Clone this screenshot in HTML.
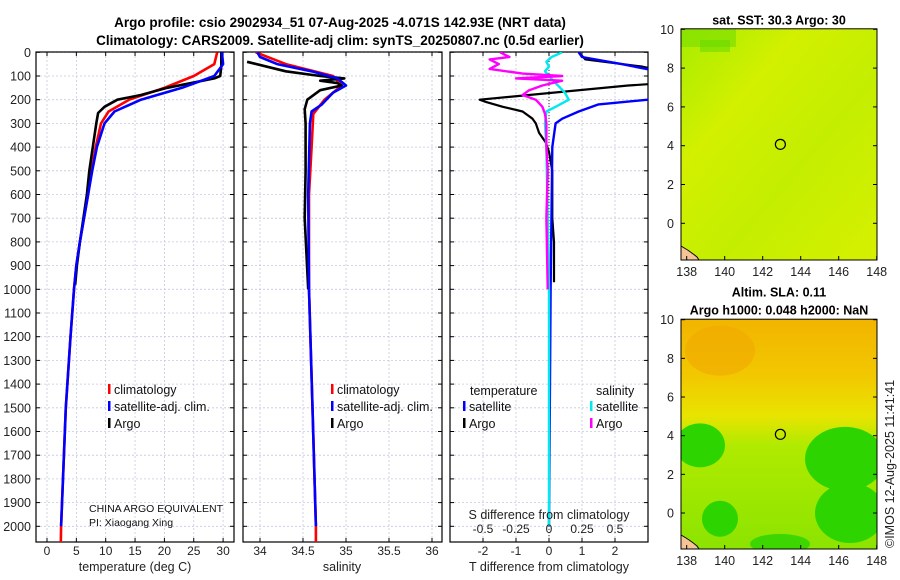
<!DOCTYPE html>
<html><head><meta charset="utf-8">
<style>
html,body{margin:0;padding:0;background:#fff;}
svg{display:block;font-family:"Liberation Sans","DejaVu Sans",sans-serif;}
</style></head>
<body>
<svg id="c" width="900" height="580" viewBox="0 0 900 580" xmlns="http://www.w3.org/2000/svg">
<defs>
<linearGradient id="sstg" x1="0" y1="0" x2="1" y2="1">
<stop offset="0" stop-color="#a8ec00"/><stop offset="0.3" stop-color="#d2f000"/><stop offset="0.6" stop-color="#c4ee00"/><stop offset="1" stop-color="#d6f000"/>
</linearGradient>
<linearGradient id="slag" x1="0" y1="0" x2="0" y2="1">
<stop offset="0" stop-color="#f2b400"/><stop offset="0.25" stop-color="#f2c800"/><stop offset="0.42" stop-color="#e8e400"/><stop offset="0.55" stop-color="#b0ea00"/><stop offset="1" stop-color="#8ce400"/>
</linearGradient>
<clipPath id="cp1"><rect x="36" y="52" width="198" height="490"/></clipPath>
<clipPath id="cp2"><rect x="243" y="52" width="199" height="490"/></clipPath>
<clipPath id="cp3"><rect x="450" y="52" width="198" height="490"/></clipPath>
<clipPath id="cm2"><rect x="681" y="319" width="196" height="230"/></clipPath>
</defs>
<g id="root"></g>
</svg>
<script>
// ---- data (depth in dbar) ----
const climDepth = [0,50,100,150,200,250,300,400,500,600,700,800,900,1000,1200,1500,2000,2070];
const climTemp  = [29,28.5,25,20,14,10.5,9.2,8.3,7.6,7.0,6.3,5.6,5.0,4.6,4.0,3.2,2.4,2.35];
const satDepth  = [0,50,100,150,200,250,300,400,500,600,700,800,900,1000,1200,1500,2000];
const satTemp   = [29.8,30,28.5,23,16,11.5,9.8,8.5,7.7,7.0,6.3,5.6,5.0,4.6,4.0,3.2,2.4];
const argoDepth = [0,60,100,110,150,180,200,230,256,300,400,500,600,700,800,900,980];
const argoTemp  = [29.7,29.7,29.5,28.5,20.5,16,12,9.8,8.7,8.4,7.8,7.2,6.8,6.2,5.6,5.1,4.8];

const climSDepth = [0,50,100,140,200,260,400,600,1000,1500,2000,2070];
const climSal    = [33.95,34.3,34.85,34.95,34.75,34.62,34.6,34.57,34.57,34.61,34.65,34.65];
const satSDepth  = [0,20,50,80,110,140,170,220,250,300,600,1000,1500,2000];
const satSal     = [33.97,34.0,34.2,34.6,34.9,35.0,34.85,34.72,34.6,34.58,34.56,34.57,34.61,34.65];
const argoSDepth = [40,80,100,110,120,130,140,160,200,240,300,500,700,1000];
const argoSal    = [33.85,34.3,34.7,34.98,34.7,34.9,34.95,34.7,34.55,34.52,34.53,34.53,34.52,34.56];

const dTDepthArgo = [0,30,60,80,130,140,200,210,230,250,280,300,340,380,420,500,700,800,970];
const dTArgo      = [0.9,1.1,2.8,3.5,3.5,2.4,-2.1,-1.9,-1.4,-0.8,-0.5,-0.4,-0.3,-0.1,0.0,0.1,0.1,0.15,0.15];
const dTDepthSat  = [0,20,50,80,110,200,220,250,280,300,400,1000,2000];
const dTSat       = [0.9,1.0,2.2,3.3,3.6,3.0,1.5,0.9,0.4,0.2,0.1,0.05,0.0];
const dSDepthSat  = [0,20,40,60,80,100,130,170,200,230,250,300,400,1000,2000];
const dSSat       = [0.1,0.02,-0.02,0.0,-0.03,0.0,0.05,0.12,0.15,0.05,-0.02,-0.03,-0.02,0.0,0.0];
const dSDepthArgo = [0,20,30,50,70,90,100,110,120,140,160,180,200,230,260,300,400,500,700,1000];
const dSArgo      = [-0.37,-0.3,-0.45,-0.38,-0.45,-0.2,0.1,-0.25,0.1,-0.05,-0.15,-0.2,-0.1,-0.05,-0.03,-0.02,-0.02,-0.01,-0.02,-0.01];

const depthTicks = [0,100,200,300,400,500,600,700,800,900,1000,1100,1200,1300,1400,1500,1600,1700,1800,1900,2000];
const tTicks = [0,5,10,15,20,25,30];
const sTicks = [34,34.5,35,35.5,36];
const sTickLabels = ["34","34.5","35","35.5","36"];
const dtTicks = [-2,-1,0,1,2];
const dsTicks = [-0.5,-0.25,0,0.25,0.5];
const dsTickLabels = ["-0.5","-0.25","0","0.25","0.5"];
const lonTicks = [138,140,142,144,146,148];
const latTicks = [10,8,6,4,2,0];

// ---- scales ----
const yD = d => 52.3 + d*0.2370;
const xT = t => 47 + t*5.87;
const xS = s => 260 + (s-34)*86;
const xDT = t => 549 + t*33;
const xDS = s => 549 + s*132;
const NS = "http://www.w3.org/2000/svg";
const root = document.getElementById('root');
function mk(tag, attrs, parent){ const e=document.createElementNS(NS,tag); for(const k in attrs) e.setAttribute(k,attrs[k]); (parent||root).appendChild(e); return e; }
function txt(x,y,s,attrs,parent){ const e=mk('text',Object.assign({x:x,y:y},attrs||{}),parent); e.textContent=s; return e; }

// titles
let t1 = txt(340,27,"Argo profile: csio 2902934_51 07-Aug-2025 -4.071S 142.93E (NRT data)",{"font-size":"13.5","font-weight":"bold","text-anchor":"middle"});


let t2 = txt(340,45,"Climatology: CARS2009. Satellite-adj clim: synTS_20250807.nc (0.5d earlier)",{"font-size":"13.5","font-weight":"bold","text-anchor":"middle"});



const panels = [
 {x0:36,x1:234,clip:'cp1',name:'temperature-panel',vt:tTicks,vl:tTicks.map(String),f:xT},
 {x0:243,x1:442,clip:'cp2',name:'salinity-panel',vt:sTicks,vl:sTickLabels,f:xS},
 {x0:450,x1:648,clip:'cp3',name:'difference-panel',vt:dtTicks,vl:dtTicks.map(String),f:xDT}
];
const yB = 542;
panels.forEach((p,i)=>{
  const g = mk('g',{});
  
  
  depthTicks.forEach(d=>{ mk('line',{x1:p.x0,x2:p.x1,y1:yD(d),y2:yD(d),stroke:'#c4c8e0','stroke-width':0.8,'stroke-dasharray':'2,2'},g); });
  p.vt.forEach(v=>{ mk('line',{x1:p.f(v),x2:p.f(v),y1:52,y2:yB,stroke:'#c4c8e0','stroke-width':0.8,'stroke-dasharray':'2,2'},g); });
  depthTicks.forEach(d=>{ mk('line',{x1:p.x0,x2:p.x0+4,y1:yD(d),y2:yD(d),stroke:'#000'},g); mk('line',{x1:p.x1-4,x2:p.x1,y1:yD(d),y2:yD(d),stroke:'#000'},g); });
  p.vt.forEach((v,k)=>{ mk('line',{x1:p.f(v),x2:p.f(v),y1:yB,y2:yB-4,stroke:'#000'},g); mk('line',{x1:p.f(v),x2:p.f(v),y1:52,y2:56,stroke:'#000'},g);
    const tl = txt(p.f(v),555,p.vl[k],{"font-size":"12","text-anchor":"middle",fill:'#222'},g);
    
    
  });
  mk('rect',{x:p.x0,y:52,width:p.x1-p.x0,height:yB-52,fill:'none',stroke:'#000','stroke-width':1.2},g);
});
depthTicks.forEach(d=>{ const e=txt(31,yD(d)+4.5,String(d),{"font-size":"12.5","text-anchor":"end",fill:'#222'});
  
  
});
let xt1=txt(135,571,"temperature (deg C)",{"font-size":"12.5","text-anchor":"middle",fill:'#222'});


let xt2=txt(342,571,"salinity",{"font-size":"12.5","text-anchor":"middle",fill:'#222'});


let xt3=txt(549,571,"T difference from climatology",{"font-size":"12.5","text-anchor":"middle",fill:'#222'});



function line(ds,vs,fx,color,clip,name,w){
  const pts = ds.map((d,i)=>fx(vs[i]).toFixed(1)+','+yD(d).toFixed(1)).join(' ');
  const e = mk('polyline',{points:pts,fill:'none',stroke:color,'stroke-width':w||2.6,'stroke-linejoin':'round','clip-path':'url(#'+clip+')'});
  
  
}
line(climDepth,climTemp,xT,'#ff0000','cp1','temperature-climatology-line');
line(argoDepth,argoTemp,xT,'#000000','cp1','temperature-argo-line');
line(satDepth,satTemp,xT,'#0000ff','cp1','temperature-satellite-line');
line(climSDepth,climSal,xS,'#ff0000','cp2','salinity-climatology-line');
line(argoSDepth,argoSal,xS,'#000000','cp2','salinity-argo-line');
line(satSDepth,satSal,xS,'#0000ff','cp2','salinity-satellite-line');
mk('line',{x1:549,x2:549,y1:52,y2:yB,stroke:'#000','stroke-width':0.8,'stroke-dasharray':'1,2'});
line(dTDepthArgo,dTArgo,xDT,'#000000','cp3','t-diff-argo-line',2.2);
line(dTDepthSat,dTSat,xDT,'#0000ff','cp3','t-diff-satellite-line',2.4);
line(dSDepthSat,dSSat,xDS,'#00e8f0','cp3','s-diff-satellite-line',2.4);
line(dSDepthArgo,dSArgo,xDS,'#ff00ff','cp3','s-diff-argo-line',2.4);

let sdt=txt(549,519,"S difference from climatology",{"font-size":"12.5","text-anchor":"middle",fill:'#222'});


dsTicks.forEach((v,k)=>{ const e=txt(xDS(v),533,dsTickLabels[k],{"font-size":"12","text-anchor":"middle",fill:'#222'});
  
  
});

function leg(x,y,color,label){ const g=mk('g',{});
  
  
  mk('rect',{x:x,y:y-8,width:2.5,height:10,fill:color},g);
  txt(x+6,y+2,label,{"font-size":"12.5",fill:'#111'},g); }
leg(108,392,'#ff0000','climatology'); leg(108,409,'#0000ff','satellite-adj. clim.'); leg(108,426,'#000','Argo');
leg(331,392,'#ff0000','climatology'); leg(331,409,'#0000ff','satellite-adj. clim.'); leg(331,426,'#000','Argo');
let lt=txt(470,395,"temperature",{"font-size":"12.5",fill:'#111'});


let ls=txt(596,395,"salinity",{"font-size":"12.5",fill:'#111'});


leg(463,409,'#0000ff','satellite'); leg(463,426,'#000','Argo');
leg(590,409,'#00e8f0','satellite'); leg(590,426,'#ff00ff','Argo');
let n1=txt(89,512,"CHINA ARGO EQUIVALENT",{"font-size":"10.5",fill:'#111'});


let n2=txt(89,526,"PI: Xiaogang Xing",{"font-size":"10.5",fill:'#111'});



// ---- maps ----
const lonX = l => 686.7 + (l-138)*19.0;
function map(y10,y0,bottom,name,title1,title2,fillId,extra){
  const g=mk('g',{});
  
  
  const latY = la => y0 + (y10-y0)*la/10;
  mk('rect',{x:681,y:y10-0.5,width:196,height:bottom-y10+0.5,fill:'url(#'+fillId+')'},g);
  if(extra) extra(g,latY);
  mk('path',{d:`M681,${bottom-14} Q690,${bottom-9} 697,${bottom-3} L699,${bottom} L681,${bottom} Z`,fill:'#f5c496',stroke:'#000','stroke-width':1},g);
  mk('circle',{cx:lonX(142.93),cy:latY(4.07),r:5,fill:'none',stroke:'#000','stroke-width':1.2},g);
  mk('rect',{x:681,y:y10-0.5,width:196,height:bottom-y10+0.5,fill:'none',stroke:'#000','stroke-width':1},g);
  latTicks.forEach(la=>{ mk('line',{x1:681,x2:685,y1:latY(la),y2:latY(la),stroke:'#000'},g); mk('line',{x1:873,x2:877,y1:latY(la),y2:latY(la),stroke:'#000'},g);
    const e=txt(674,latY(la)+4.5,String(la),{"font-size":"12.5","text-anchor":"end",fill:'#222'},g);
    
    
  });
  lonTicks.forEach(lo=>{ mk('line',{x1:lonX(lo),x2:lonX(lo),y1:bottom,y2:bottom-4,stroke:'#000'},g);
    const e=txt(lonX(lo),bottom+16,String(lo),{"font-size":"12.5","text-anchor":"middle",fill:'#222'},g);
    
    
  });
  const a=txt(779,title2?y10-23:y10-5,title1,{"font-size":"12.5","font-weight":"bold","text-anchor":"middle"},g);
  
  
  if(title2){ const b=txt(779,y10-5,title2,{"font-size":"12.5","font-weight":"bold","text-anchor":"middle"},g);
    
     }
}
map(29.3,223.3,260,'sst-map','sat. SST: 30.3 Argo: 30',null,'sstg',(g,latY)=>{
  mk('rect',{x:681,y:29,width:55,height:18,fill:'#7fe000',opacity:0.7},g);
  mk('rect',{x:700,y:40,width:30,height:12,fill:'#60d800',opacity:0.5},g);
});
map(319.7,513,549,'sla-map','Altim. SLA: 0.11','Argo h1000: 0.048 h2000: NaN','slag',(g,latY)=>{
  const cg=mk('g',{'clip-path':'url(#cm2)'},g);
  mk('ellipse',{cx:700,cy:latY(3.5),rx:25,ry:22,fill:'#2ed400'},cg);
  mk('ellipse',{cx:845,cy:latY(2.8),rx:40,ry:32,fill:'#2ed400'},cg);
  mk('ellipse',{cx:850,cy:latY(0),rx:35,ry:30,fill:'#2ed400'},cg);
  mk('ellipse',{cx:720,cy:latY(-0.3),rx:18,ry:18,fill:'#2ed400'},cg);
  mk('ellipse',{cx:780,cy:latY(-1.6),rx:30,ry:10,fill:'#3ed600'},cg);
  mk('ellipse',{cx:720,cy:latY(8.4),rx:35,ry:25,fill:'#f0a800',opacity:0.6},cg);
});
let cr=txt(0,0,"©IMOS 12-Aug-2025 11:41:41",{"font-size":"12.5",fill:'#222',transform:'translate(894,548) rotate(-90)'});


</script>
</body></html>
